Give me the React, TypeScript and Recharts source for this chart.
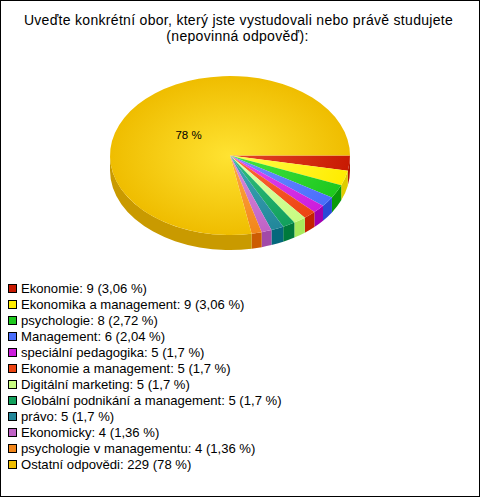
import React from "react";
import { PieChart, Pie, Legend } from "recharts";

// data
const names = [
  "Ekonomie",
  "Ekonomika a management",
  "psychologie",
  "Management",
  "speciální pedagogika",
  "Ekonomie a management",
  "Digitální marketing",
  "Globální podnikání a management",
  "právo",
  "Ekonomicky",
  "psychologie v managementu",
  "Ostatní odpovědi",
];
const counts = [9, 9, 8, 6, 5, 5, 5, 5, 5, 4, 4, 229];
const percents = [3.06, 3.06, 2.72, 2.04, 1.7, 1.7, 1.7, 1.7, 1.7, 1.36, 1.36, 78];

const baseColors = [
  "#c81a02", "#ffec00", "#1ec81e", "#4a6efc", "#cc1ddc", "#ec4412",
  "#c8fc82", "#12a05c", "#22879a", "#c062c6", "#f2861a", "#efbd00",
];
const lightColors = [
  "#e6482a", "#ffff50", "#44e444", "#7090ff", "#e050f0", "#ff6a3a",
  "#e0ffb0", "#30c080", "#40a8b8", "#d890dc", "#ffa848", "#ffe332",
];
const wallColors = [
  "#b01400", "#e0cc00", "#0a9a0a", "#2a4ad6", "#a000b0", "#c42400",
  "#a8ea5c", "#007a3c", "#05687c", "#a24aa8", "#cc5c04", "#c99a00",
];

const titleLines = [
  "Uveďte konkrétní obor, který jste vystudovali nebo právě studujete",
  "(nepovinná odpověď):",
];

const data = names.map((name, i) => ({ name, value: counts[i], pct: percents[i] }));

const W = 478;
const H = 495;
const CX = 229;
const CY = 154.5;
const RX = 120;
const RY = 79.5;
const DEPTH = 15;
const FONT = "'Liberation Sans', Arial, sans-serif";

const RAD = Math.PI / 180;
const pt = (cx: number, cy: number, a: number, dy = 0) =>
  `${cx + RX * Math.cos(a * RAD)},${cy - RY * Math.sin(a * RAD) + dy}`;

function TopFace(props: any) {
  const { cx, cy, startAngle, endAngle, index } = props;
  const span = Math.abs(startAngle - endAngle);
  const large = span > 180 ? 1 : 0;
  const d = `M${cx},${cy} L${pt(cx, cy, startAngle)} A${RX},${RY} 0 ${large} 1 ${pt(cx, cy, endAngle)} Z`;
  return <path d={d} fill={`url(#face${index})`} stroke="none" />;
}

function Wall(props: any) {
  const { cx, cy, startAngle, endAngle, index } = props;
  const a1 = Math.min(startAngle, 0);
  const a2 = Math.max(endAngle, -180);
  if (a1 <= a2) return <g />;
  const d =
    `M${pt(cx, cy, a1)} A${RX},${RY} 0 0 1 ${pt(cx, cy, a2)} ` +
    `L${pt(cx, cy, a2, DEPTH)} A${RX},${RY} 0 0 0 ${pt(cx, cy, a1, DEPTH)} Z`;
  return <path d={d} fill={wallColors[index]} stroke="none" />;
}

function PctLabel(props: any) {
  const { cx, cy, midAngle, index } = props;
  if (percents[index] < 10) return null;
  const x = cx + RX * 0.45 * Math.cos(midAngle * RAD);
  const y = cy - RY * 0.4 * Math.sin(midAngle * RAD);
  return (
    <text x={x} y={y} textAnchor="middle" dominantBaseline="central" fontSize={11.5} fontFamily={FONT} fill="#000">
      {`${percents[index]} %`}
    </text>
  );
}

const fmt = (n: number) => String(n).replace(".", ",");

function LegendRows() {
  return (
    <div style={{ fontFamily: FONT, fontSize: 13.1, color: "#000" }}>
      {data.map((d, i) => (
        <div key={d.name} style={{ height: 16, display: "flex", alignItems: "center", whiteSpace: "nowrap" }}>
          <span
            style={{
              width: 7,
              height: 7,
              border: "1px solid #000",
              background: baseColors[i],
              marginRight: 4,
              display: "inline-block",
            }}
          />
          {`${d.name}: ${d.value} (${fmt(d.pct)} %)`}
        </div>
      ))}
    </div>
  );
}

export default function App() {
  return (
    <div
      style={{
        position: "absolute",
        left: 0,
        top: 0,
        width: 480,
        height: 497,
        border: "1px solid #000",
        boxSizing: "border-box",
        background: "#fff",
      }}
    >
      <PieChart width={W} height={H} margin={{ top: 0, right: 0, bottom: 0, left: 0 }}>
        <defs>
          {baseColors.map((c, i) => (
            <radialGradient
              key={i}
              id={`face${i}`}
              gradientUnits="userSpaceOnUse"
              cx={CX}
              cy={CY}
              r={RX}
              gradientTransform={`translate(0 ${CY}) scale(1 ${RY / RX}) translate(0 ${-CY})`}
            >
              <stop offset="0%" stopColor={lightColors[i]} />
              <stop offset="100%" stopColor={c} />
            </radialGradient>
          ))}
        </defs>
        <text x={237.5} y={19} textAnchor="middle" dominantBaseline="central" fontSize={14} letterSpacing={0.3} fontFamily={FONT} fill="#000">
          {titleLines[0]}
        </text>
        <text x={236.5} y={35} textAnchor="middle" dominantBaseline="central" fontSize={14} letterSpacing={0.3} fontFamily={FONT} fill="#000">
          {titleLines[1]}
        </text>
        <Pie
          data={data}
          dataKey="value"
          nameKey="name"
          cx={CX}
          cy={CY}
          outerRadius={RX}
          startAngle={0}
          endAngle={-360}
          isAnimationActive={false}
          shape={Wall}
          activeShape={Wall}
          inactiveShape={Wall}
          stroke="none"
          legendType="none"
        />
        <Pie
          data={data}
          dataKey="value"
          nameKey="name"
          cx={CX}
          cy={CY}
          outerRadius={RX}
          startAngle={0}
          endAngle={-360}
          isAnimationActive={false}
          shape={TopFace}
          activeShape={TopFace}
          inactiveShape={TopFace}
          stroke="none"
          label={PctLabel}
          labelLine={false}
        />
        <Legend
          content={() => <LegendRows />}
          wrapperStyle={{ position: "absolute", left: 7, top: 279, width: "auto" }}
        />
      </PieChart>
    </div>
  );
}
